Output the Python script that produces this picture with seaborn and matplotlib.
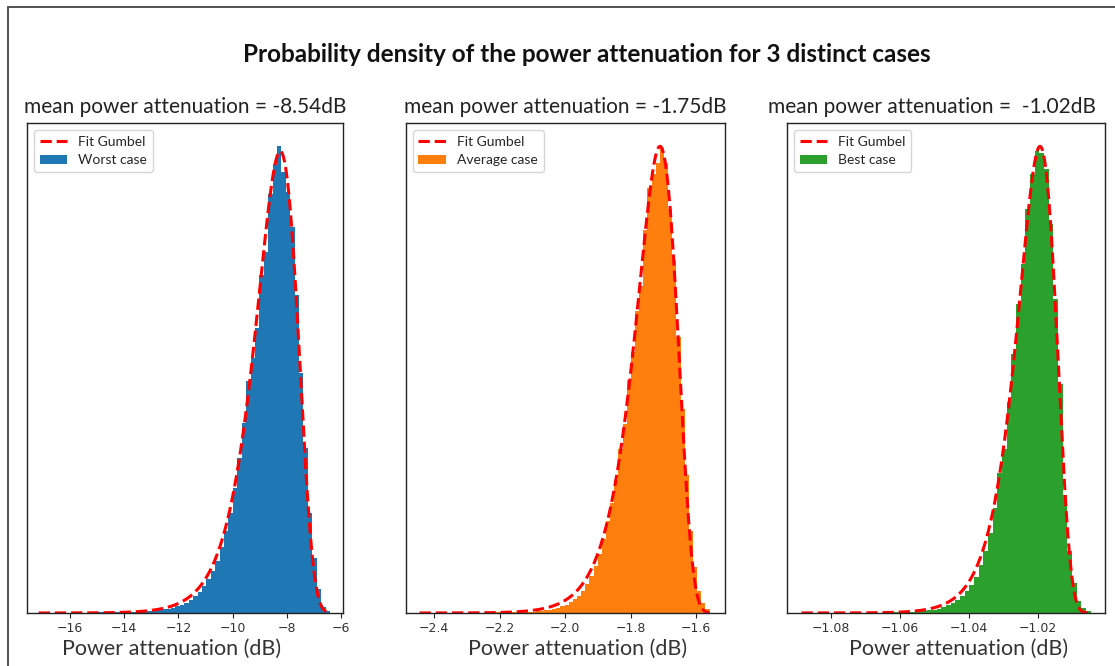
import numpy as np
import pandas as pd
import matplotlib
matplotlib.use("Agg")
import matplotlib.pyplot as plt
import seaborn as sns
from matplotlib.patches import Rectangle

# ---------------- data ----------------
case_names = ["Worst case", "Average case", "Best case"]
mean_attenuation_db = [-8.54, -1.75, -1.02]
case_colors = ["#1f77b4", "#ff7f0e", "#2ca02c"]

# histogram bin ranges (dB) and bin densities (relative, left -> right)
worst_bin_range = (-17.14, -6.42)
worst_density = [
    0.1, 0.1, 0.15, 0.15, 0.2, 0.2, 0.25, 0.3, 0.3, 0.35, 0.4, 0.45, 0.5, 0.55, 0.6, 0.65, 0.7, 0.75, 0.8,
    0.9, 1.0, 1.1, 1.3, 1.6, 1.9, 2.3, 2.7, 3.1, 3.6,
    4, 5, 6.5, 8, 10, 13, 17, 21, 27, 34, 42, 52, 66,
    82, 100, 125, 155, 190, 232, 255, 285, 338, 360, 418, 448,
    466, 440, 420, 385, 318, 240, 165, 100, 55, 24, 6, 2,
]
avg_bin_range = (-2.444, -1.5585)
avg_density = [
    0.1, 0.1, 0.1, 0.15, 0.15, 0.15, 0.2, 0.2, 0.2, 0.25, 0.25, 0.3, 0.3, 0.35, 0.35, 0.4, 0.4, 0.45,
    0.5, 0.5, 0.55, 0.6, 0.65, 0.7, 0.75,
    0.8, 1.0, 1.3, 1.6, 2, 2.6, 3.2, 4, 5, 6.5, 8, 11, 14, 17, 22, 28, 36, 46, 58, 72,
    90, 108, 130, 160, 185, 228, 255, 295, 320, 375, 416, 430, 440, 455,
    440, 395, 345, 270, 200, 135, 80, 45, 22, 10, 4,
]
best_bin_range = (-1.0886, -1.00486)
best_density = [
    0.1, 0.1, 0.1, 0.15, 0.15, 0.2, 0.2, 0.2, 0.25, 0.25, 0.3, 0.3, 0.35, 0.4, 0.4, 0.45, 0.5, 0.5,
    0.55, 0.6, 0.65, 0.7,
    0.8, 1, 1.3, 1.7, 2.2, 2.8, 3.5, 4.5, 6, 8, 10, 13, 17, 22, 28,
    36, 48, 62, 80, 105, 140, 165, 212, 260, 310, 350, 405, 440, 464,
    462, 445, 390, 315, 230, 118, 62, 30, 12, 5, 2,
]

# Gumbel (left-skewed) fit parameters: location (dB), scale (dB)
worst_fit = (-8.25, 0.77)
avg_fit = (-1.71, 0.063)
best_fit = (-1.0195, 0.0056)

# axis ticks
worst_ticks = [-16, -14, -12, -10, -8, -6]
avg_ticks = [-2.4, -2.2, -2.0, -1.8, -1.6]
best_ticks = [-1.08, -1.06, -1.04, -1.02]

suptitle_text = "Probability density of the power attenuation for 3 distinct cases"
xlabel_text = "Power attenuation (dB)"
fit_label = "Fit Gumbel"
title_templates = ["mean power attenuation = {:.2f}dB",
                   "mean power attenuation = {:.2f}dB",
                   "mean power attenuation =  {:.2f}dB"]

# ---------------- style ----------------
sns.set_theme(style="ticks")
plt.rcParams["font.family"] = ["DejaVu Sans"]
plt.rcParams["axes.edgecolor"] = "#222222"
plt.rcParams["axes.linewidth"] = 1.0
plt.rcParams["xtick.color"] = "#222222"
plt.rcParams["xtick.labelcolor"] = "#333333"
plt.rcParams["xtick.major.size"] = 3.5
plt.rcParams["xtick.major.width"] = 0.8

TXT = ["Lato", "DejaVu Sans"]

W, H = 1115, 666
fig = plt.figure(figsize=(W / 100, H / 100), dpi=100)
fig.patch.set_facecolor("white")

axes_px = [(27, 343), (406, 725), (787, 1105)]
ax_top, ax_bottom = 123, 613
xlims = [(-17.57, -5.94), (-2.4855, -1.5115), (-1.0928, -1.00067)]
title_x = [0.5, 0.5, 0.456]
xlabel_x = [0.456, 0.538, 0.539]

datasets = [
    (worst_bin_range, worst_density, worst_fit, worst_ticks),
    (avg_bin_range, avg_density, avg_fit, avg_ticks),
    (best_bin_range, best_density, best_fit, best_ticks),
]

for k, (rng, dens, fit, ticks) in enumerate(datasets):
    x0, x1 = axes_px[k]
    ax = fig.add_axes([x0 / W, (H - ax_bottom) / H, (x1 - x0) / W, (ax_bottom - ax_top) / H])
    n = len(dens)
    lo, hi = rng
    width = (hi - lo) / n
    centers = lo + (np.arange(n) + 0.5) * width
    df = pd.DataFrame({"attenuation_db": centers, "density": dens})
    sns.histplot(data=df, x="attenuation_db", weights="density", bins=n, binrange=rng,
                 stat="density", element="step", fill=True, color=case_colors[k],
                 alpha=1.0, linewidth=0, label=case_names[k], ax=ax)

    loc, scale = fit
    xs = np.linspace(lo, hi, 600)
    zz = (xs - loc) / scale
    pdf = np.exp(zz - np.exp(zz)) / scale
    sns.lineplot(x=xs, y=pdf, color="red", linestyle="--", linewidth=2.2,
                 label=fit_label, ax=ax, legend=False)

    ax.set_xlim(*xlims[k])
    ax.set_ylim(bottom=0)
    ax.set_xticks(ticks)
    ax.set_yticks([])
    ax.set_ylabel("")
    ax.tick_params(axis="x", labelsize=9, pad=3)
    for sp in ax.spines.values():
        sp.set_visible(True)

    ax.set_xlabel(xlabel_text, fontsize=15.5, family=TXT, color="#333333")
    ax.xaxis.set_label_coords(xlabel_x[k], -0.052)
    ax.set_title(title_templates[k].format(mean_attenuation_db[k]), fontsize=15,
                 family=TXT, color="#222222", pad=7, x=title_x[k])

    handles, labels = ax.get_legend_handles_labels()
    order = sorted(range(len(labels)), key=lambda i: 0 if labels[i] == fit_label else 1)
    ax.legend([handles[i] for i in order], [labels[i] for i in order], loc="upper left",
              prop={"family": TXT, "size": 10}, frameon=True, framealpha=0.8,
              edgecolor="#cccccc", fancybox=True)

fig.text(587 / W, 1 - 55 / H, suptitle_text, ha="center", va="center", fontsize=17.5,
         fontweight="bold", family=TXT, color="#111111")

fig.add_artist(Rectangle((8 / W, -0.05), 1.2, (H - 7) / H + 0.05, transform=fig.transFigure,
                         fill=False, edgecolor="#444444", linewidth=1.3, clip_on=False))

fig.savefig("out.png", dpi=100, facecolor="white")
